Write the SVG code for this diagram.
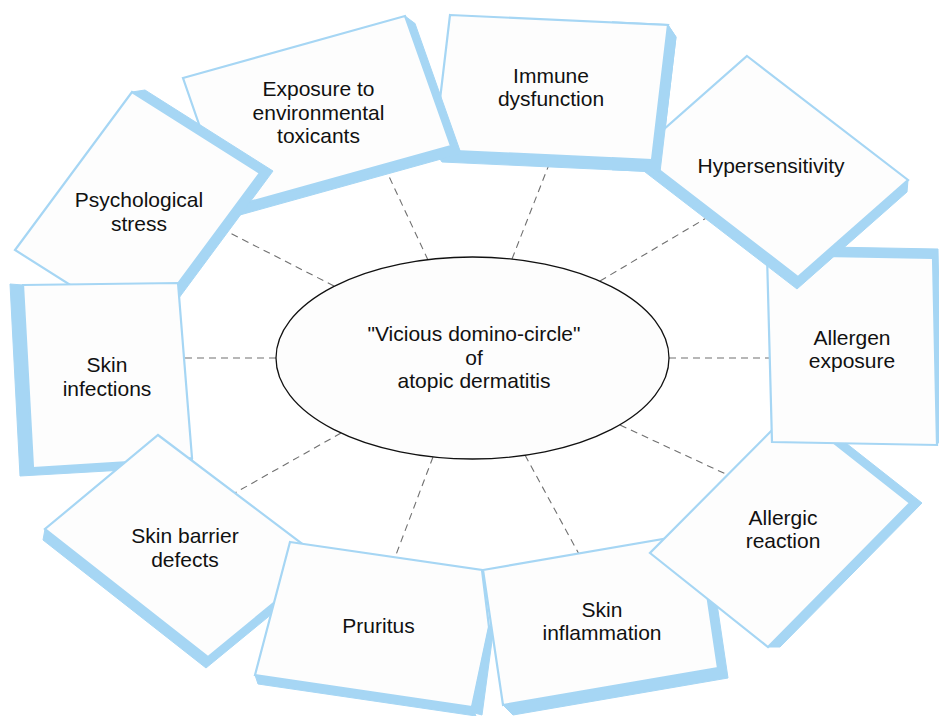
<svg xmlns="http://www.w3.org/2000/svg" xmlns:xlink="http://www.w3.org/1999/xlink" width="939" height="716" viewBox="0 0 939 716">
<style>
.side{fill:#a6d6f4;stroke:#a6d6f4;stroke-width:1;stroke-linejoin:round}
.face{fill:#fdfdfd;stroke:#a6d6f4;stroke-width:2.2;stroke-linejoin:miter}
.lbl{font-family:"Liberation Sans",Arial,sans-serif;font-size:21px;fill:#111;text-anchor:middle}
.conn{stroke:#707070;stroke-width:1.1;stroke-dasharray:7,5;fill:none}
</style>
<defs>
<clipPath id="clipImm"><rect x="612" y="0" width="90" height="200"/></clipPath>
</defs>
<rect width="939" height="716" fill="#ffffff"/>
<g id="connectors">
<line class="conn" x1="334" y1="286" x2="226" y2="231"/>
<line class="conn" x1="428" y1="260" x2="386" y2="170"/>
<line class="conn" x1="512" y1="259" x2="550" y2="162"/>
<line class="conn" x1="600" y1="281" x2="708" y2="217"/>
<line class="conn" x1="669" y1="358" x2="772" y2="358"/>
<line class="conn" x1="620" y1="425" x2="730" y2="476"/>
<line class="conn" x1="525" y1="455" x2="580" y2="556"/>
<line class="conn" x1="433" y1="457" x2="394" y2="560"/>
<line class="conn" x1="341" y1="433" x2="233" y2="494"/>
<line class="conn" x1="276" y1="358" x2="182" y2="358"/>
</g>
<g id="center">
<ellipse cx="472.5" cy="358" rx="196.5" ry="101" fill="#fdfdfd" stroke="#111" stroke-width="1.3"/>
<text class="lbl" x="474" y="341">"Vicious domino-circle"</text>
<text class="lbl" x="474" y="364.5">of</text>
<text class="lbl" x="474" y="388">atopic dermatitis</text>
</g>
<g id="immune">
<g id="immune-shape">
<polygon class="side" points="668,25 676,37 660,172 442,162 434,150"/>
<polygon class="face" points="450,15 668,25 652,160 434,150"/>
</g>
<text class="lbl" x="551" y="82.5">Immune</text>
<text class="lbl" x="551" y="106">dysfunction</text>
</g>
<g id="exposure">
<polygon class="side" points="405,16 415,23.5 461,153.5 238,215.5 228,208"/>
<polygon class="face" points="183,78 405,16 451,146 228,208"/>
<text class="lbl" x="318.5" y="96">Exposure to</text>
<text class="lbl" x="318.5" y="119.5">environmental</text>
<text class="lbl" x="318.5" y="143">toxicants</text>
</g>
<g id="psych">
<polygon class="side" points="132,92 145,90 273,171 156,329 143,331"/>
<polygon class="face" points="132,92 260,173 143,331 15,250"/>
<text class="lbl" x="139" y="207">Psychological</text>
<text class="lbl" x="139" y="230.5">stress</text>
</g>
<g id="infections">
<polygon class="side" points="23,285 10,284 20,476 194,466 192,458"/>
<polygon class="face" points="23,285 178,283 192,458 33,468"/>
<text class="lbl" x="107" y="372">Skin</text>
<text class="lbl" x="107" y="395.5">infections</text>
</g>
<g id="barrier">
<polygon class="side" points="45,529 43,540 206,668 323,572 325,561"/>
<polygon class="face" points="158,435 325,561 208,657 45,529"/>
<text class="lbl" x="185" y="543">Skin barrier</text>
<text class="lbl" x="185" y="566.5">defects</text>
</g>
<g id="pruritus">
<polygon class="side" points="472,707 476,716 258,684 255,675"/>
<polygon class="face" points="290,542 482,570 489,627 472,707 255,675"/>
<text class="lbl" x="378.5" y="633">Pruritus</text>
</g>
<g id="inflammation">
<polygon class="side" points="698,533 708,543 728,678 513,715 503,705"/>
<polygon class="side" points="489,626 494,626 482,715 471,712"/>
<polygon class="face" points="483,570 698,533 718,668 503,705"/>
<text class="lbl" x="602" y="616.5">Skin</text>
<text class="lbl" x="602" y="640">inflammation</text>
</g>
<g id="allergic">
<polygon class="side" points="792,410 804,410 922,503 780,647 768,647"/>
<polygon class="face" points="792,410 910,503 768,647 650,553"/>
<text class="lbl" x="783" y="524.5">Allergic</text>
<text class="lbl" x="783" y="548">reaction</text>
</g>
<g id="allergen">
<polygon class="side" points="767,255 772,246 938,249 942,436 937,445"/>
<polygon class="face" points="767,255 933,258 937,445 772,442"/>
<text class="lbl" x="852" y="344.5">Allergen</text>
<text class="lbl" x="852" y="368">exposure</text>
</g>
<g id="hyper">
<polygon class="side" points="637,153 636,165 797,289 907,192 908,180"/>
<polygon class="face" points="747,56 908,180 798,277 637,153"/>
<text class="lbl" x="771" y="173">Hypersensitivity</text>
</g>
<use xlink:href="#immune-shape" clip-path="url(#clipImm)"/>
</svg>
